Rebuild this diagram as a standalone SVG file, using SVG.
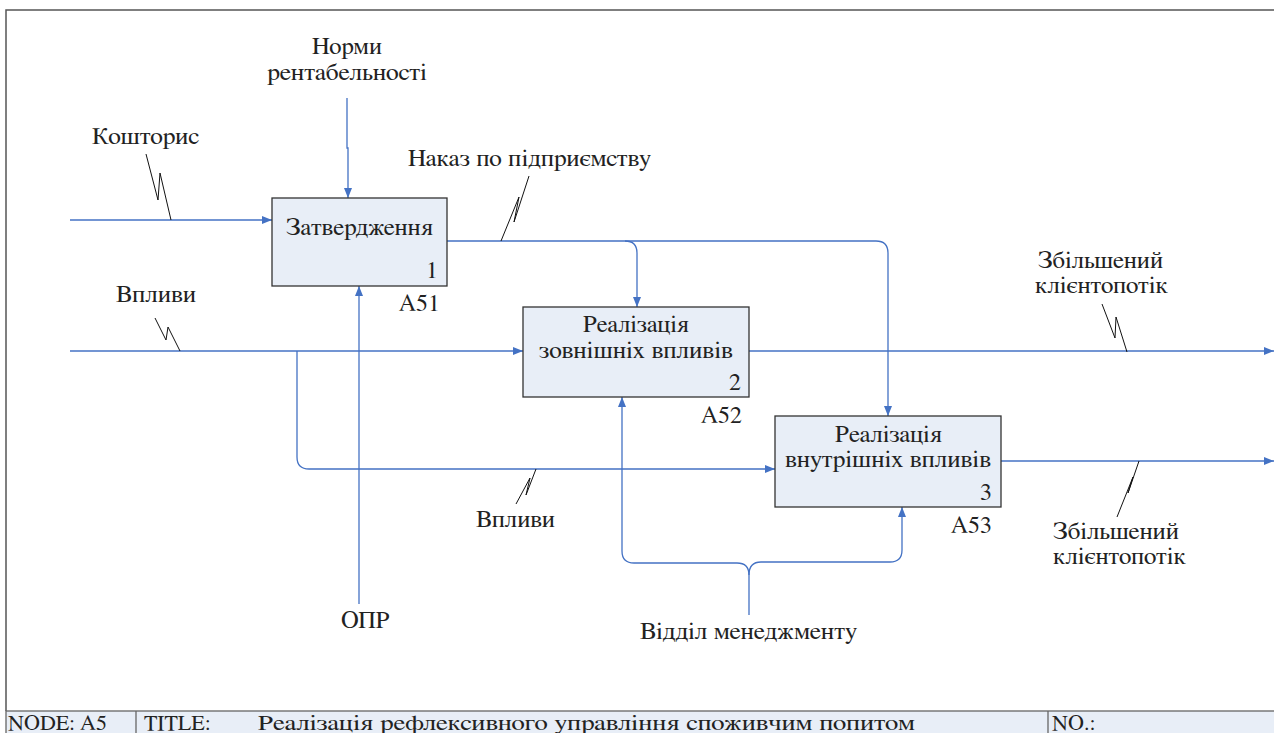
<svg xmlns="http://www.w3.org/2000/svg" width="1274" height="733" viewBox="0 0 1274 733">
<defs>
<marker id="arr" markerWidth="10" markerHeight="8" refX="10" refY="4" orient="auto" markerUnits="userSpaceOnUse">
<path d="M0,0 L10,4 L0,8 Z" fill="#4472C4"/>
</marker>
</defs>
<rect width="1274" height="733" fill="#fff"/>
<path d="M6,711 V10 H1274" fill="none" stroke="#555" stroke-width="1.5"/>
<g id="footer" fill="#222">
<rect x="6" y="711" width="1270" height="24" fill="#E8EEF7" stroke="#666" stroke-width="1.3"/>
<line x1="136" y1="711" x2="136" y2="733" stroke="#666" stroke-width="1.3"/>
<line x1="1048" y1="711" x2="1048" y2="733" stroke="#666" stroke-width="1.3"/>
<text x="8" y="730" font-family="FreeSerif, Tinos, Liberation Serif, serif" font-size="22">NODE: A5</text>
<text x="144" y="730" font-family="FreeSerif, Tinos, Liberation Serif, serif" font-size="22">TITLE:</text>
<text x="258" y="730" font-family="FreeSerif, Tinos, Liberation Serif, serif" font-size="22" textLength="657" lengthAdjust="spacingAndGlyphs">Реалізація рефлексивного управління споживчим попитом</text>
<text x="1052" y="730" font-family="FreeSerif, Tinos, Liberation Serif, serif" font-size="22">NO.:</text>
</g>
<g id="connectors" fill="none" stroke="#4472C4" stroke-width="1.3">
<path d="M70,220 H272" marker-end="url(#arr)"/>
<path d="M347,98 V148 H348 V198" marker-end="url(#arr)"/>
<path d="M447,241 H625 Q637,241 637,253 V307" marker-end="url(#arr)"/>
<path d="M625,241 H876 Q888,241 888,253 V416" marker-end="url(#arr)"/>
<path d="M70,351 H523" marker-end="url(#arr)"/>
<path d="M297,351 V457 Q297,469 309,469 H775" marker-end="url(#arr)"/>
<path d="M359,604 V286" marker-end="url(#arr)"/>
<path d="M749,351 H1274" marker-end="url(#arr)"/>
<path d="M1001,461 H1274" marker-end="url(#arr)"/>
<path d="M749,615 V575 Q749,563 737,563 H634 Q622,563 622,551 V397" marker-end="url(#arr)"/>
<path d="M749,575 Q749,562 761,562 H890 Q902,562 902,550 V507" marker-end="url(#arr)"/>
<g stroke="#111" stroke-width="1">
<path d="M146,154 L158,200 L160,173 L171,220"/>
<path d="M529,176 L514,222 L519,197 L501,241"/>
<path d="M155,318 L166,340 L168,327 L180,351"/>
<path d="M536,469 L526,495 L530,478 L516,504"/>
<path d="M1102,304 L1115,338 L1116,317 L1127,352"/>
<path d="M1139,461 L1128,493 L1133,477 L1117,517"/>
</g>
</g>
<g id="node1" fill="#222">
<rect x="272" y="198" width="175" height="88" fill="#E8EEF7" stroke="#333" stroke-width="1.3"/>
<text x="286" y="235" font-family="FreeSerif, Tinos, Liberation Serif, serif" font-size="24" textLength="147" lengthAdjust="spacingAndGlyphs">Затвердження</text>
<text x="438" y="278" font-family="FreeSerif, Tinos, Liberation Serif, serif" font-size="24" text-anchor="end">1</text>
<text x="440" y="311" font-family="FreeSerif, Tinos, Liberation Serif, serif" font-size="24" text-anchor="end">A51</text>
</g>
<g id="node2" fill="#222">
<rect x="523" y="307" width="226" height="90" fill="#E8EEF7" stroke="#333" stroke-width="1.3"/>
<text x="583" y="332" font-family="FreeSerif, Tinos, Liberation Serif, serif" font-size="24" textLength="106" lengthAdjust="spacingAndGlyphs">Реалізація</text>
<text x="539" y="358" font-family="FreeSerif, Tinos, Liberation Serif, serif" font-size="24" textLength="194" lengthAdjust="spacingAndGlyphs">зовнішніх впливів</text>
<text x="741" y="390" font-family="FreeSerif, Tinos, Liberation Serif, serif" font-size="24" text-anchor="end">2</text>
<text x="742" y="423" font-family="FreeSerif, Tinos, Liberation Serif, serif" font-size="24" text-anchor="end">A52</text>
</g>
<g id="node3" fill="#222">
<rect x="775" y="416" width="226" height="91" fill="#E8EEF7" stroke="#333" stroke-width="1.3"/>
<text x="835" y="442" font-family="FreeSerif, Tinos, Liberation Serif, serif" font-size="24" textLength="107" lengthAdjust="spacingAndGlyphs">Реалізація</text>
<text x="785" y="467" font-family="FreeSerif, Tinos, Liberation Serif, serif" font-size="24" textLength="206" lengthAdjust="spacingAndGlyphs">внутрішніх впливів</text>
<text x="992" y="500" font-family="FreeSerif, Tinos, Liberation Serif, serif" font-size="24" text-anchor="end">3</text>
<text x="992" y="533" font-family="FreeSerif, Tinos, Liberation Serif, serif" font-size="24" text-anchor="end">A53</text>
</g>
<g id="labels" fill="#222">
<text x="312" y="54" font-family="FreeSerif, Tinos, Liberation Serif, serif" font-size="24" textLength="70" lengthAdjust="spacingAndGlyphs">Норми</text>
<text x="267" y="80" font-family="FreeSerif, Tinos, Liberation Serif, serif" font-size="24" textLength="160" lengthAdjust="spacingAndGlyphs">рентабельності</text>
<text x="92" y="144" font-family="FreeSerif, Tinos, Liberation Serif, serif" font-size="24" textLength="107" lengthAdjust="spacingAndGlyphs">Кошторис</text>
<text x="408" y="166" font-family="FreeSerif, Tinos, Liberation Serif, serif" font-size="24" textLength="243" lengthAdjust="spacingAndGlyphs">Наказ по підприємству</text>
<text x="116" y="302" font-family="FreeSerif, Tinos, Liberation Serif, serif" font-size="24" textLength="80" lengthAdjust="spacingAndGlyphs">Впливи</text>
<text x="476" y="527" font-family="FreeSerif, Tinos, Liberation Serif, serif" font-size="24" textLength="79" lengthAdjust="spacingAndGlyphs">Впливи</text>
<text x="341" y="628" font-family="FreeSerif, Tinos, Liberation Serif, serif" font-size="24" textLength="49" lengthAdjust="spacingAndGlyphs">ОПР</text>
<text x="640" y="639" font-family="FreeSerif, Tinos, Liberation Serif, serif" font-size="24" textLength="217" lengthAdjust="spacingAndGlyphs">Відділ менеджменту</text>
<text x="1038" y="268" font-family="FreeSerif, Tinos, Liberation Serif, serif" font-size="24" textLength="125" lengthAdjust="spacingAndGlyphs">Збільшений</text>
<text x="1035" y="293" font-family="FreeSerif, Tinos, Liberation Serif, serif" font-size="24" textLength="133" lengthAdjust="spacingAndGlyphs">клієнтопотік</text>
<text x="1053" y="539" font-family="FreeSerif, Tinos, Liberation Serif, serif" font-size="24" textLength="126" lengthAdjust="spacingAndGlyphs">Збільшений</text>
<text x="1053" y="564" font-family="FreeSerif, Tinos, Liberation Serif, serif" font-size="24" textLength="133" lengthAdjust="spacingAndGlyphs">клієнтопотік</text>
</g>
</svg>
